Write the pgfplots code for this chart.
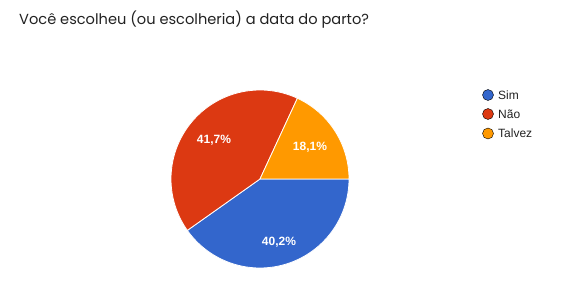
\documentclass[border=0pt]{standalone}
\usepackage{pgfplots}
\pgfplotsset{compat=1.18}
\usepackage{fontspec}
\setmainfont{Liberation Sans}
\newfontfamily\titlefont{Poppins}
\definecolor{csim}{HTML}{3366CC}
\definecolor{cnao}{HTML}{DC3912}
\definecolor{ctal}{HTML}{FF9900}
\definecolor{ctxt}{HTML}{222222}
% shares (percent)
\def\vSim{40.2}
\def\vNao{41.7}
\def\vTal{18.1}
\begin{document}
\begin{tikzpicture}
\pgfmathsetmacro\aA{0}
\pgfmathsetmacro\aB{-3.6*\vSim}
\pgfmathsetmacro\aC{-3.6*(\vSim+\vNao)}
\pgfmathsetmacro\aD{-3.6*(\vSim+\vNao+\vTal)}
\begin{axis}[
  name=ax,
  scale only axis, width=583pt, height=296pt,
  xmin=0, xmax=583, ymin=0, ymax=296, y dir=reverse,
  hide axis, clip=false,
  samples=90, variable=\t,
]
\addplot[fill=csim, draw=white, line width=0.8pt, domain=\aB:\aA] ({260+89*cos(t)},{179-89*sin(t)}) -- (axis cs:260,179) -- cycle;
\addplot[fill=cnao, draw=white, line width=0.8pt, domain=\aC:\aB] ({260+89*cos(t)},{179-89*sin(t)}) -- (axis cs:260,179) -- cycle;
\addplot[fill=ctal, draw=white, line width=0.8pt, domain=\aD:\aC] ({260+89*cos(t)},{179-89*sin(t)}) -- (axis cs:260,179) -- cycle;
% slice labels
\node[text=white, font=\fontsize{12}{14}\selectfont\bfseries] at (axis cs:279,242) {40,2\%};
\node[text=white, font=\fontsize{12}{14}\selectfont\bfseries] at (axis cs:214,140) {41,7\%};
\node[text=white, font=\fontsize{12}{14}\selectfont\bfseries] at (axis cs:310,147) {18,1\%};
% title
\node[anchor=base west, text=ctxt, font=\titlefont\fontsize{14.6}{17}\selectfont, inner sep=0pt] at (axis cs:19,24.5) {Você escolheu (ou escolheria) a data do parto?};
% legend
\addplot[only marks, mark=*, mark size=5.5, draw=none, fill=csim] coordinates {(488,95)};
\addplot[only marks, mark=*, mark size=5.5, draw=none, fill=cnao] coordinates {(488,114)};
\addplot[only marks, mark=*, mark size=5.5, draw=none, fill=ctal] coordinates {(488,133.5)};
\node[anchor=base west, text=ctxt, font=\fontsize{12}{14}\selectfont, inner sep=0pt] at (axis cs:498,99.3) {Sim};
\node[anchor=base west, text=ctxt, font=\fontsize{12}{14}\selectfont, inner sep=0pt] at (axis cs:498,118.3) {Não};
\node[anchor=base west, text=ctxt, font=\fontsize{12}{14}\selectfont, inner sep=0pt] at (axis cs:498,137.8) {Talvez};
\end{axis}
\path (ax.south west) rectangle (ax.north east);
\end{tikzpicture}
\end{document}
